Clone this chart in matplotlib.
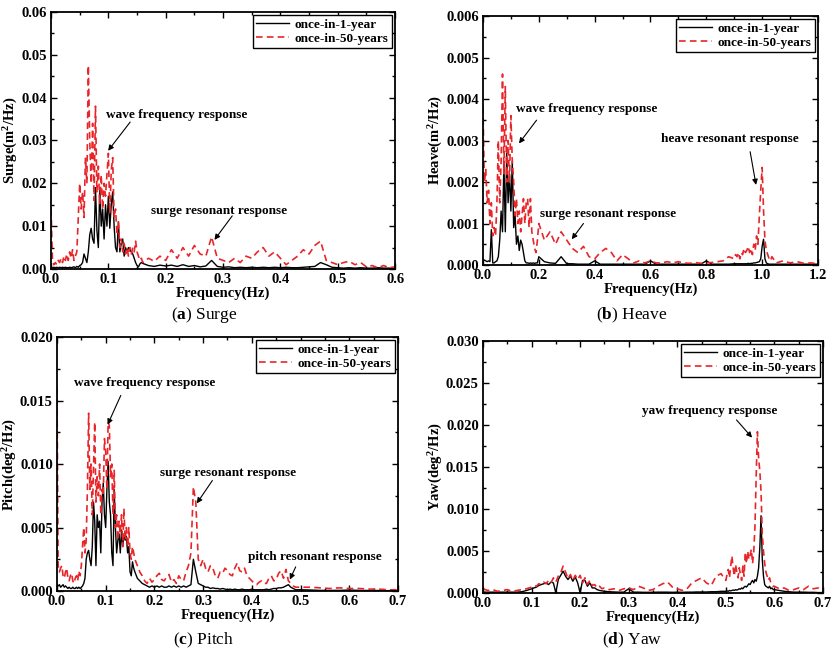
import numpy as np
import matplotlib
matplotlib.use("Agg")
import matplotlib.pyplot as plt
from matplotlib.ticker import MultipleLocator, FormatStrFormatter

plt.rcParams['font.family'] = ['Liberation Serif', 'DejaVu Serif']
plt.rcParams['font.weight'] = 'bold'
plt.rcParams['axes.labelweight'] = 'bold'
plt.rcParams['mathtext.fontset'] = 'custom'
plt.rcParams['mathtext.rm'] = 'Liberation Serif'
plt.rcParams['mathtext.bf'] = 'Liberation Serif:bold'
plt.rcParams['mathtext.default'] = 'bf'

# ---- data (spectral values) ----
# (a) surge, values in 1e-3 m^2/Hz
freq_a = np.round(np.concatenate([np.arange(0, 0.159, 0.0025), np.arange(0.16, 0.605, 0.01)]), 4)
surge_1yr = [0.5, 0.3, 0.4, 0.3, 0.4, 0.3, 0.4, 0.3, 0.4, 0.3,
             0.4, 0.3, 0.3, 0.4, 0.3, 0.4, 0.5, 0.3, 0.6, 0.4,
             0.8, 1.0, 1.5, 3.5, 2.5, 1.5, 4, 8, 9.5, 7,
             6, 19, 9, 5, 19, 10, 14, 7, 15, 10,
             17, 9.5, 15, 18, 10, 5, 4, 11, 4, 6,
             7, 3, 5, 4, 5, 4.5, 4, 3.5, 2.5, 1.5,
             0.8, 0.5, 1.2, 1.5,
             1.3, 0.8, 0.6, 0.9, 0.7, 0.9, 0.6, 1.0, 0.6, 0.8,
             0.5, 0.7, 2.0, 0.6, 0.4, 0.5, 0.3, 0.4, 0.3, 0.4,
             0.3, 0.4, 0.3, 0.4, 0.3, 0.4, 0.3, 0.3, 0.4, 0.5,
             0.6, 1.5, 1.0, 0.4, 0.3, 0.2, 0.3, 0.2, 0.3, 0.2,
             0.2, 0.3, 0.2, 0.2, 0.2]
surge_50yr = [14, 2, 1, 1.5, 1, 2, 1.5, 2.5, 1.5, 3,
              2, 3.5, 2, 4, 2.5, 4.5, 2, 3, 4, 12,
              20, 14, 18, 12, 26, 20, 47.5, 30, 20, 34,
              16, 38, 18, 24, 15, 22, 14, 20, 17, 22,
              27, 13, 23, 26, 12, 14, 8, 11, 5, 7,
              4, 6, 3.5, 5, 3, 5, 3.5, 5, 4, 6.5,
              4, 3, 2, 2.5,
              1.5, 2.5, 1.8, 3, 2, 4.5, 2.5, 5, 3, 5.5,
              3.5, 3, 7.5, 2.5, 2, 1.5, 2.5, 1.5, 3, 2.5,
              4, 5, 3, 4, 2.5, 1, 2, 3, 4.5, 3.5,
              5.5, 6.5, 2, 1.5, 1, 1.5, 1.8, 1, 1.5, 0.5,
              0.8, 0.3, 0.8, 0.3, 0.5]

# (b) heave, values in 1e-3 m^2/Hz
freq_b = np.round(np.concatenate([np.arange(0, 0.199, 0.005), np.arange(0.2, 0.899, 0.02),
                                  np.arange(0.9, 1.049, 0.005), np.arange(1.05, 1.205, 0.025)]), 4)
heave_1yr = [0.1, 0.12, 0.1, 0.08, 0.1, 0.08, 0.85, 0.05, 0.05, 0.08,
             0.1, 0.2, 0.6, 1.3, 0.8, 2.5, 0.8, 2.7, 1.5, 2.2,
             1.3, 2.5, 0.9, 1.2, 0.5, 0.7, 0.35, 0.6, 0.5, 0.3,
             0.1, 0.05, 0.05, 0.04, 0.05, 0.04, 0.05, 0.04, 0.05, 0.05,
             0.2, 0.08, 0.05, 0.04, 0.2, 0.03, 0.03, 0.02, 0.02, 0.02,
             0.1, 0.02, 0.02, 0.02, 0.02, 0.02, 0.02, 0.02, 0.02, 0.02,
             0.1, 0.02, 0.02, 0.02, 0.02, 0.02, 0.02, 0.02, 0.02, 0.02,
             0.1, 0.02, 0.02, 0.02, 0.02,
             0.03, 0.03, 0.03, 0.03, 0.03, 0.03, 0.03, 0.03, 0.03, 0.03,
             0.04, 0.03, 0.04, 0.04, 0.05, 0.05, 0.06, 0.07, 0.08, 0.15,
             0.45, 0.62, 0.15, 0.05, 0.03, 0.02, 0.02, 0.02, 0.02, 0.02,
             0.02, 0.02, 0.02, 0.02, 0.02, 0.02, 0.02]
heave_50yr = [3.8, 2.0, 2.3, 1.5, 1.8, 1.0, 1.5, 0.7, 0.9, 0.7,
              1.5, 3.0, 1.5, 2.5, 4.6, 2.2, 4.3, 2.0, 3.0, 2.0,
              3.6, 2.5, 2.0, 1.2, 1.6, 1.0, 1.3, 0.8, 1.2, 1.6,
              1.0, 1.5, 1.6, 0.9, 1.6, 0.8, 0.6, 0.4, 0.3, 0.6,
              1.0, 0.6, 0.8, 0.5, 0.8, 0.6, 0.4, 0.3, 0.45, 0.2,
              0.15, 0.3, 0.4, 0.3, 0.1, 0.25, 0.15, 0.05, 0.1, 0.05,
              0.1, 0.05, 0.05, 0.08, 0.05, 0.08, 0.05, 0.04, 0.06, 0.04,
              0.05, 0.06, 0.08, 0.1, 0.2,
              0.15, 0.25, 0.2, 0.3, 0.15, 0.3, 0.25, 0.4, 0.3, 0.35,
              0.45, 0.3, 0.4, 0.25, 0.5, 0.35, 0.7, 0.5, 1.2, 1.8,
              2.35, 1.3, 0.6, 0.35, 0.25, 0.15, 0.1, 0.2, 0.15, 0.1,
              0.05, 0.1, 0.05, 0.08, 0.04, 0.05, 0.03]

# (c) pitch, values in 1e-3 deg^2/Hz
freq_c = np.round(np.concatenate([np.arange(0, 0.159, 0.0025), np.arange(0.16, 0.499, 0.005),
                                  np.arange(0.5, 0.705, 0.02)]), 4)
pitch_1yr = [0.5, 0.4, 0.5, 0.3, 0.4, 0.5, 0.3, 0.4, 0.3, 0.2,
             0.3, 0.2, 0.2, 0.3, 0.2, 0.2, 0.3, 0.2, 0.3, 0.2,
             0.3, 0.4, 0.6, 1, 2.5, 3, 3.2, 2.5, 2, 3.5,
             7, 5.5, 2, 6, 5, 5.5, 3, 7, 8.5, 6,
             5, 8, 10.2, 7, 6, 3, 2, 8, 5, 3,
             4, 4.5, 3, 4.8, 3.5, 4.5, 4, 4.3, 3, 3.5,
             1.5, 1.2, 2.3, 1.8,
             1.5, 1, 0.8, 0.6, 0.5, 0.4, 0.3, 0.4, 0.3, 0.4,
             0.3, 0.4, 0.3, 0.3, 0.4, 0.3, 0.4, 0.3, 0.4, 0.3,
             0.4, 0.3, 0.4, 0.5, 2.5, 1.5, 0.6, 0.5, 0.4, 0.3,
             0.3, 0.2, 0.25, 0.2, 0.2, 0.15, 0.2, 0.15, 0.1, 0.15,
             0.1, 0.15, 0.1, 0.1, 0.15, 0.1, 0.1, 0.1, 0.15, 0.1,
             0.1, 0.1, 0.1, 0.1, 0.15, 0.1, 0.15, 0.2, 0.2, 0.25,
             0.25, 0.3, 0.4, 0.5, 0.3, 0.2, 0.1, 0.1,
             0.1, 0.08, 0.05, 0.05, 0.05, 0.08, 0.05, 0.04, 0.04, 0.03, 0.03]
pitch_50yr = [16, 2, 1.5, 1.8, 2, 1.2, 1, 1.5, 1.8, 1,
              0.8, 1.2, 1.4, 0.8, 0.6, 1, 1.2, 0.8, 1.6, 1.2,
              2, 3.5, 5, 3, 4, 8, 14, 8, 10, 6,
              9.5, 13.3, 7, 9, 7.5, 10, 6, 8, 7.5, 12,
              11, 8, 13.3, 13, 9, 10, 6, 9.5, 5, 6,
              4, 5.5, 4.5, 6, 3.5, 6.5, 4, 5, 3.5, 5,
              3, 2.5, 3.5, 3,
              2.5, 2, 1.5, 1.2, 0.8, 0.6, 1, 0.7, 0.9, 1.2,
              1.4, 0.9, 0.8, 1.1, 1.3, 0.7, 0.9, 0.6, 1.2, 0.9,
              0.8, 1.5, 2, 3, 8.2, 7, 2.5, 2, 2.5, 1.8,
              1.5, 2, 1.8, 1.2, 1, 1.5, 1.4, 1.8, 1.6, 1.3,
              1.2, 1.8, 2.2, 1.6, 1.5, 1.8, 1.2, 1, 0.8, 0.6,
              0.5, 0.7, 0.8, 0.6, 0.6, 1, 1.2, 0.8, 0.9, 1.4,
              1.6, 1, 1.7, 0.8, 0.6, 0.4, 0.3, 0.3,
              0.3, 0.3, 0.25, 0.2, 0.25, 0.2, 0.2, 0.15, 0.15, 0.1, 0.1]

# (d) yaw, values in 1e-3 deg^2/Hz
freq_d = np.round(np.concatenate([np.arange(0, 0.099, 0.01), np.arange(0.1, 0.2475, 0.005),
                                  np.arange(0.25, 0.495, 0.01), np.arange(0.5, 0.599, 0.0025),
                                  np.arange(0.6, 0.705, 0.01)]), 4)
yaw_1yr = [0.1, 0.1, 0.1, 0.1, 0.1, 0.1, 0.1, 0.1, 0.15, 0.3,
           0.5, 0.6, 0.7, 0.9, 1.0, 1.1, 1.2, 1.0, 1.3, 1.2,
           0.0, 1.6, 2.1, 2.6, 2.0, 1.6, 2.0, 1.4, 1.9, 1.2,
           0.0, 1.5, 1.5, 0.8, 1.2, 0.6, 0.6, 0.4, 0.3, 0.25,
           0.2, 0.15, 0.12, 0.1, 0.1, 0.5, 0.1, 0.1, 0.08, 0.08,
           0.08, 0.1, 0.1, 0.1, 0.08, 0.1, 0.08, 0.1, 0.1, 0.12,
           0.12, 0.12, 0.15, 0.15, 0.2,
           0.2, 0.25, 0.2, 0.3, 0.25, 0.3, 0.35, 0.3, 0.4, 0.35,
           0.4, 0.5, 0.45, 0.6, 0.5, 0.7, 0.8, 0.7, 0.9, 1.1,
           1.0, 1.3, 1.5, 1.2, 1.6, 1.4, 2.0, 3.0, 5.5, 9.2,
           4.0, 2.0, 1.0, 0.8, 0.7, 0.6, 0.8, 0.5, 0.6, 0.4,
           0.4, 0.3, 0.2, 0.15, 0.1, 0.1, 0.1, 0.08, 0.08, 0.05, 0.05]
yaw_50yr = [0.5, 0.3, 0.4, 0.2, 0.3, 0.4, 0.2, 0.3, 0.4, 0.5,
            0.7, 0.9, 0.8, 1.1, 1.0, 1.3, 1.1, 1.5, 1.2, 1.8,
            1.3, 2.0, 2.4, 3.2, 2.5, 1.7, 2.2, 1.5, 2.1, 1.6,
            2.1, 1.2, 1.8, 1.0, 1.5, 0.9, 1.0, 0.6, 0.8, 0.5,
            0.6, 0.4, 0.5, 0.3, 0.5, 0.6, 0.4, 0.8, 0.6, 0.3,
            0.4, 0.8, 1.1, 1.3, 0.7, 0.5, 0.3, 0.5, 1.2, 1.5,
            1.8, 1.2, 0.9, 2.0, 2.3,
            1.5, 2.2, 2.8, 1.8, 3.2, 4.4, 3.0, 2.0, 3.4, 2.5,
            1.8, 3.0, 2.2, 1.5, 3.2, 2.0, 4.8, 3.5, 5.0, 4.0,
            4.5, 5.2, 3.5, 5.0, 8.0, 14.0, 19.2, 16.0, 14.5, 12.0,
            7.0, 5.0, 3.5, 2.5, 2.0, 1.5, 1.8, 1.2, 1.0, 0.8,
            0.8, 0.5, 0.6, 0.3, 0.4, 0.6, 0.4, 0.8, 0.5, 0.6, 0.2]

labels = ['once-in-1-year', 'once-in-50-years']
red = '#e8262a'

fig = plt.figure(figsize=(8.34, 6.54), dpi=100)


def panel(rect, f, v1, v50, xmax, xmaj, xmin, ymax, ymaj, ymin, yfmt, ylabel):
    ax = fig.add_axes(rect)
    ax.plot(f, np.array(v1) * 1e-3, color='k', lw=1.0, label=labels[0])
    ax.plot(f, np.array(v50) * 1e-3, color=red, lw=1.2, ls=(0, (4, 2.5)), label=labels[1])
    ax.set_xlim(0, xmax)
    ax.set_ylim(0, ymax)
    ax.xaxis.set_major_locator(MultipleLocator(xmaj))
    ax.xaxis.set_minor_locator(MultipleLocator(xmin))
    ax.yaxis.set_major_locator(MultipleLocator(ymaj))
    ax.yaxis.set_minor_locator(MultipleLocator(ymin))
    ax.xaxis.set_major_formatter(FormatStrFormatter('%.1f'))
    ax.yaxis.set_major_formatter(FormatStrFormatter(yfmt))
    ax.tick_params(which='both', direction='in', top=True, right=True, width=1.0, labelsize=10.5, pad=3)
    ax.tick_params(which='major', length=4)
    ax.tick_params(which='minor', length=2.5)
    for t in ax.get_xticklabels() + ax.get_yticklabels():
        t.set_fontweight('bold')
    for s in ax.spines.values():
        s.set_linewidth(1.3)
    ax.set_xlabel('Frequency(Hz)', fontsize=10.5, fontweight='bold', labelpad=0)
    ax.set_ylabel(ylabel, fontsize=10.5, fontweight='bold', labelpad=1)
    leg = ax.legend(loc='upper right', fancybox=False, edgecolor='k', framealpha=1,
                    borderaxespad=0.25, borderpad=0.25, labelspacing=0.15, handlelength=2.5,
                    handletextpad=0.4, prop={'size': 9.5, 'weight': 'bold'})
    leg.get_frame().set_linewidth(1.0)
    return ax


def note(ax, text, txy, start, tip):
    ax.text(txy[0], txy[1], text, fontsize=9.5, fontweight='bold', ha='left', va='center')
    ax.annotate('', xy=tip, xytext=start,
                arrowprops=dict(arrowstyle='-|>', color='k', lw=0.8, mutation_scale=8,
                                shrinkA=0, shrinkB=0))


ax_a = panel([0.0612, 0.5887, 0.4125, 0.393], freq_a, surge_1yr, surge_50yr,
             0.6, 0.1, 0.05, 0.06, 0.01, 0.005, '%.2f', 'Surge(m$^{2}$/Hz)')
note(ax_a, 'wave frequency response', (0.096, 0.036), (0.138, 0.0343), (0.0995, 0.0276))
note(ax_a, 'surge resonant response', (0.1745, 0.0135), (0.316, 0.0124), (0.285, 0.0068))

ax_b = panel([0.5791, 0.5948, 0.4017, 0.3807], freq_b, heave_1yr, heave_50yr,
             1.2, 0.2, 0.1, 0.006, 0.001, 0.0005, '%.3f', 'Heave(m$^{2}$/Hz)')
note(ax_b, 'wave frequency response', (0.118, 0.00376), (0.192, 0.00349), (0.129, 0.00293))
note(ax_b, 'surge resonant response', (0.204, 0.00122), (0.36, 0.001), (0.318, 0.00062))
note(ax_b, 'heave resonant response', (0.638, 0.00303), (0.957, 0.00273), (0.978, 0.00193))

ax_c = panel([0.0683, 0.0963, 0.4089, 0.3884], freq_c, pitch_1yr, pitch_50yr,
             0.7, 0.1, 0.05, 0.02, 0.005, 0.0025, '%.3f', 'Pitch(deg$^{2}$/Hz)')
note(ax_c, 'wave frequency response', (0.035, 0.0164), (0.131, 0.0154), (0.104, 0.0131))
note(ax_c, 'surge resonant response', (0.2115, 0.0093), (0.319, 0.0087), (0.287, 0.0069))
note(ax_c, 'pitch resonant response', (0.393, 0.0027), (0.49, 0.0019), (0.478, 0.0009))

ax_d = panel([0.5791, 0.0933, 0.4077, 0.3853], freq_d, yaw_1yr, yaw_50yr,
             0.7, 0.1, 0.05, 0.03, 0.005, 0.0025, '%.3f', 'Yaw(deg$^{2}$/Hz)')
note(ax_d, 'yaw frequency response', (0.3265, 0.0217), (0.522, 0.0206), (0.554, 0.0185))

# captions under each panel
cap = dict(fontsize=12.5, ha='center', va='center', fontweight='normal')
fig.text(204 / 834, 1 - 315 / 654, '($\\mathbf{a}$) Surge', **cap)
fig.text(632 / 834, 1 - 315 / 654, '($\\mathbf{b}$) Heave', **cap)
fig.text(204 / 834, 1 - 640 / 654, '($\\mathbf{c}$) Pitch', **cap)
fig.text(632 / 834, 1 - 640 / 654, '($\\mathbf{d}$) Yaw', **cap)

fig.savefig('out.png', dpi=100)
